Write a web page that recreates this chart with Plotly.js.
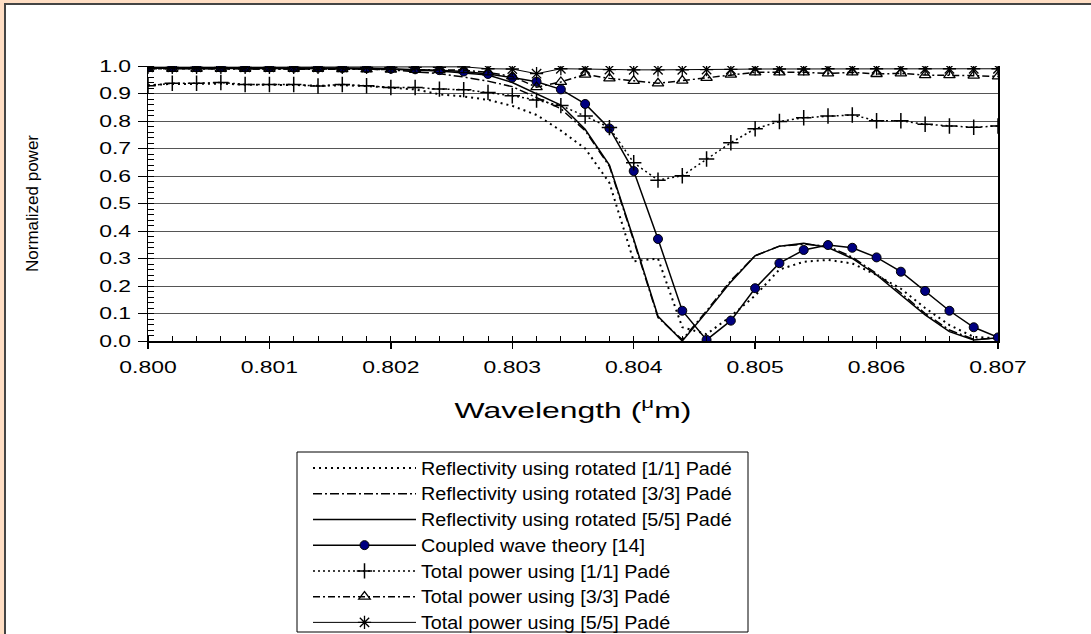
<!DOCTYPE html>
<html>
<head>
<meta charset="utf-8">
<script src="https://cdn.plot.ly/plotly-3.0.1.min.js"></script>
<style>
  html, body { margin: 0; padding: 0; background: #FFDEC4; }
  #chart { width: 1091px; height: 634px; }
</style>
</head>
<body>
<div id="chart"></div>
<script>
// Wavelength samples (µm)
const wavelength = [
  0.8000, 0.8002, 0.8004, 0.8006, 0.8008, 0.8010, 0.8012, 0.8014, 0.8016, 0.8018,
  0.8020, 0.8022, 0.8024, 0.8026, 0.8028, 0.8030, 0.8032, 0.8034, 0.8036, 0.8038,
  0.8040, 0.8042, 0.8044, 0.8046, 0.8048, 0.8050, 0.8052, 0.8054, 0.8056, 0.8058,
  0.8060, 0.8062, 0.8064, 0.8066, 0.8068, 0.8070
];

// Reflectivity, rotated [1/1] Padé
const reflPade11 = [
  0.930, 0.935, 0.935, 0.936, 0.932, 0.932, 0.931, 0.928, 0.930, 0.927,
  0.920, 0.915, 0.897, 0.889, 0.877, 0.855, 0.822, 0.765, 0.700, 0.575,
  0.290, 0.300, 0.050, 0.025, 0.090, 0.165, 0.260, 0.288, 0.295, 0.282,
  0.240, 0.190, 0.120, 0.058, 0.015, 0.010
];

// Reflectivity, rotated [3/3] Padé
const reflPade33 = [
  0.990, 0.990, 0.990, 0.990, 0.990, 0.990, 0.990, 0.990, 0.990, 0.989,
  0.986, 0.980, 0.972, 0.960, 0.945, 0.925, 0.885, 0.845, 0.765, 0.635,
  0.365, 0.085, 0.005, 0.110, 0.220, 0.310, 0.345, 0.352, 0.345, 0.305,
  0.245, 0.175, 0.100, 0.040, 0.006, 0.010
];

// Reflectivity, rotated [5/5] Padé
const reflPade55 = [
  0.992, 0.992, 0.992, 0.992, 0.992, 0.992, 0.991, 0.991, 0.990, 0.990,
  0.988, 0.985, 0.982, 0.975, 0.967, 0.940, 0.900, 0.858, 0.770, 0.640,
  0.370, 0.090, 0.000, 0.105, 0.215, 0.310, 0.345, 0.355, 0.340, 0.300,
  0.240, 0.167, 0.095, 0.034, 0.004, 0.012
];

// Coupled wave theory [14]
const coupledWave = [
  0.995, 0.995, 0.995, 0.995, 0.995, 0.995, 0.994, 0.994, 0.993, 0.992,
  0.990, 0.988, 0.985, 0.980, 0.971, 0.958, 0.943, 0.915, 0.862, 0.773,
  0.618, 0.371, 0.110, 0.004, 0.074, 0.192, 0.283, 0.331, 0.349, 0.339,
  0.304, 0.252, 0.182, 0.110, 0.050, 0.013
];

// Total power, [1/1] Padé
const totalPade11 = [
  0.928, 0.937, 0.937, 0.940, 0.933, 0.933, 0.933, 0.927, 0.933, 0.928,
  0.922, 0.922, 0.916, 0.914, 0.904, 0.892, 0.876, 0.856, 0.818, 0.776,
  0.648, 0.585, 0.601, 0.662, 0.721, 0.772, 0.798, 0.812, 0.818, 0.822,
  0.801, 0.801, 0.788, 0.782, 0.777, 0.782
];

// Total power, [3/3] Padé
const totalPade33 = [
  0.990, 0.990, 0.990, 0.990, 0.990, 0.990, 0.990, 0.990, 0.989, 0.988,
  0.987, 0.986, 0.985, 0.985, 0.977, 0.962, 0.923, 0.942, 0.969, 0.955,
  0.946, 0.937, 0.947, 0.957, 0.969, 0.977, 0.977, 0.977, 0.973, 0.977,
  0.971, 0.973, 0.967, 0.967, 0.965, 0.962
];

// Total power, [5/5] Padé
const totalPade55 = [
  0.995, 0.995, 0.995, 0.995, 0.995, 0.995, 0.995, 0.995, 0.995, 0.995,
  0.995, 0.995, 0.995, 0.997, 0.990, 0.989, 0.972, 0.990, 0.989, 0.987,
  0.986, 0.986, 0.986, 0.987, 0.988, 0.989, 0.989, 0.989, 0.990, 0.990,
  0.990, 0.990, 0.990, 0.990, 0.990, 0.990
];

const seriesNames = [
  'Reflectivity using rotated [1/1] Padé',
  'Reflectivity using rotated [3/3] Padé',
  'Reflectivity using rotated [5/5] Padé',
  'Coupled wave theory [14]',
  'Total power using [1/1] Padé',
  'Total power using [3/3] Padé',
  'Total power using [5/5] Padé'
];

const xTickVals = [0.800, 0.801, 0.802, 0.803, 0.804, 0.805, 0.806, 0.807];
const yTickVals = [0.0, 0.1, 0.2, 0.3, 0.4, 0.5, 0.6, 0.7, 0.8, 0.9, 1.0];

const FONT = 'Liberation Sans, Arial, sans-serif';
const INK = '#000000';

const traces = [
  {
    name: seriesNames[0], x: wavelength, y: reflPade11, mode: 'lines',
    line: { color: INK, width: 2, dash: '2px,4px' }
  },
  {
    name: seriesNames[1], x: wavelength, y: reflPade33, mode: 'lines',
    line: { color: INK, width: 1.5, dash: '9px,3px,2px,3px' }
  },
  {
    name: seriesNames[2], x: wavelength, y: reflPade55, mode: 'lines',
    line: { color: INK, width: 1.5 }
  },
  {
    name: seriesNames[3], x: wavelength, y: coupledWave, mode: 'lines+markers',
    line: { color: INK, width: 1.5 },
    marker: { symbol: 'circle', size: 9, color: '#000080', line: { color: INK, width: 1 } }
  },
  {
    name: seriesNames[4], x: wavelength, y: totalPade11, mode: 'lines+markers',
    line: { color: INK, width: 1.5, dash: '2px,3px' },
    marker: { symbol: 'cross-thin-open', size: 11, color: INK, line: { color: INK, width: 1.5 } }
  },
  {
    name: seriesNames[5], x: wavelength, y: totalPade33, mode: 'lines+markers',
    line: { color: INK, width: 1.5, dash: '7px,3px,2px,3px' },
    marker: { symbol: 'triangle-up-open', size: 10, color: INK, line: { color: INK, width: 1.3 } }
  },
  {
    name: seriesNames[6], x: wavelength, y: totalPade55, mode: 'lines+markers',
    line: { color: INK, width: 1 },
    marker: { symbol: 'asterisk-open', size: 11, color: INK, line: { color: INK, width: 1.3 } }
  }
];

// plot area spans 148..998 px horizontally and 66..341 px vertically
const L = 148, R = 998, T = 66, B = 341, W = 1091, H = 634;
const px = v => (v - L) / (R - L);
const py = v => (B - v) / (B - T);

const layout = {
  width: W, height: H,
  margin: { l: L, r: W - R, t: T, b: H - B, autoexpand: false },
  paper_bgcolor: '#FFDEC4',
  plot_bgcolor: 'rgba(0,0,0,0)',
  font: { family: FONT, color: INK, size: 17 },
  showlegend: true,
  legend: {
    x: px(308), y: py(450), xanchor: 'left', yanchor: 'top',
    bgcolor: 'rgba(0,0,0,0)', borderwidth: 0,
    font: { family: FONT, size: 17.5, color: INK },
    itemwidth: 103, traceorder: 'normal'
  },
  xaxis: {
    range: [0.800, 0.807], tickvals: xTickVals, tickformat: '.3f',
    showgrid: false, zeroline: false,
    showline: true, linecolor: INK, linewidth: 1.5,
    ticks: 'outside', ticklen: 6, tickwidth: 1.5, tickcolor: INK,
    ticklabelstandoff: 4,
    minor: { dtick: 0.0002, ticks: 'inside', ticklen: 5, tickwidth: 1, tickcolor: INK, showgrid: false },
    tickfont: { family: FONT, size: 17, color: INK },
    title: { text: 'Wavelength (<sup>μ</sup>m)', font: { family: FONT, size: 22, color: INK }, standoff: 26 }
  },
  yaxis: {
    range: [0, 1.0], tickvals: yTickVals, tickformat: '.1f',
    showgrid: true, gridcolor: '#555555', gridwidth: 1, zeroline: false,
    showline: true, linecolor: INK, linewidth: 1.5, mirror: true,
    ticks: 'outside', ticklen: 9, tickwidth: 1, tickcolor: INK,
    ticklabelstandoff: 3,
    minor: { dtick: 0.02, ticks: 'inside', ticklen: 6, tickwidth: 1, tickcolor: INK, showgrid: false },
    tickfont: { family: FONT, size: 17, color: INK },
    title: { text: 'Normalized power', font: { family: 'Liberation Sans Narrow, Liberation Sans, Arial', size: 17, color: INK }, standoff: 64 }
  },
  shapes: [
    {
      // white chart panel with dark frame
      type: 'rect', xref: 'paper', yref: 'paper', layer: 'below',
      x0: px(5), x1: px(1110), y0: py(660), y1: py(4),
      fillcolor: '#FFFFFF', line: { color: '#444444', width: 2 }
    },
    {
      // legend frame
      type: 'rect', xref: 'paper', yref: 'paper', layer: 'below',
      x0: px(297), x1: px(748), y0: py(632), y1: py(452),
      fillcolor: '#FFFFFF', line: { color: '#000000', width: 1 }
    }
  ]
};

// The chart's lettering is set wide: widen each label about its own anchor point.
function widenLabels(gd) {
  const widen = (selector, factor) => {
    gd.querySelectorAll(selector).forEach(el => {
      const ax = parseFloat(el.getAttribute('x')) || 0;
      const t = el.getAttribute('transform') || '';
      el.setAttribute('transform',
        `${t} translate(${ax},0) scale(${factor},1) translate(${-ax},0)`);
    });
  };
  widen('.xtick text', 1.35);
  widen('.ytick text', 1.35);
  widen('.legendtext', 1.13);
  widen('.xtitle', 1.45);
  // the widened legend entries must not be trimmed by the legend's own clip box
  gd.querySelectorAll('.legend [clip-path]').forEach(el => el.removeAttribute('clip-path'));
}

Plotly.newPlot('chart', traces, layout, { displayModeBar: false, staticPlot: true })
  .then(widenLabels);
</script>
</body>
</html>
